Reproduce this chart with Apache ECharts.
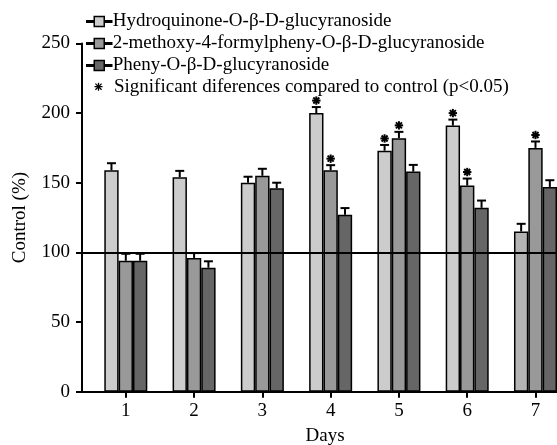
<!DOCTYPE html>
<html>
<head>
<meta charset="utf-8">
<script src="https://cdn.jsdelivr.net/npm/echarts@6/dist/echarts.min.js"></script>
<style>html,body{margin:0;padding:0;background:#fff}#main{width:557px;height:445px}</style>
</head>
<body>
<div id="main"></div>
<script>
var days = [1, 2, 3, 4, 5, 6, 7];
var names = ['Hydroquinone-O-β-D-glucyranoside', '2-methoxy-4-formylpheny-O-β-D-glucyranoside', 'Pheny-O-β-D-glucyranoside'];
var sigName = 'Significant diferences compared to control (p<0.05)';
var hydro = [159, 154, 150, 200, 173, 191, 115];
var methoxy = [94, 96, 155, 159, 182, 148, 175];
var pheny = [94, 89, 146, 127, 158, 132, 147];
var hydroErr = [5, 4.5, 4.3, 4.3, 4.1, 4.3, 5.5];
var methoxyErr = [5, 3.5, 5, 3.6, 4.5, 5, 4.6];
var phenyErr = [5, 4.6, 4, 4.8, 4.8, 5.2, 4.8];
var controlLevel = 100;
// significant points: [series index, day index]
var sigPoints = [[0, 3], [1, 3], [0, 4], [1, 4], [0, 5], [1, 5], [1, 6]];

var values = [hydro, methoxy, pheny];
var errs = [hydroErr, methoxyErr, phenyErr];
var colors = ['#cccccc', '#999999', '#666666'];
var barFrac = 0.21;
var font = 'Liberation Serif';
var fs = 19;

var iconBar = 'path://M0,4.2 L7.5,4.2 L7.5,0 L17.5,0 L17.5,4.2 L25,4.2 L25,5.8 L17.5,5.8 L17.5,10 L7.5,10 L7.5,5.8 L0,5.8 Z';
var iconStar = 'path://M4.2,0 L5.8,0 L5.8,10 L4.2,10 Z M0,4.2 L10,4.2 L10,5.8 L0,5.8 Z M1.7,0.6 L9.4,8.3 L8.3,9.4 L0.6,1.7 Z M8.3,0.6 L9.4,1.7 L1.7,9.4 L0.6,8.3 Z';

var myChart = echarts.init(document.getElementById('main'));

var series = [];
var errData = [];
for (var s = 0; s < 3; s++) {
	var d = [];
	for (var i = 0; i < days.length; i++) {
		var item = { value: [days[i], values[s][i]] };
		if (s == 0 && i == 6) {
			item.itemStyle = { color: '#b4b4b4' };
		}
		d.push(item);
		errData.push([days[i] + (s - 1) * barFrac, values[s][i], errs[s][i]]);
	}
	var ser = {
		name: names[s],
		type: 'bar',
		data: d,
		barWidth: (barFrac * 100) + '%',
		barGap: '0%',
		itemStyle: { color: colors[s], borderColor: '#000', borderWidth: 1.5 }
	};
	if (s == 0) {
		ser.markLine = {
			silent: true,
			symbol: ['none', 'none'],
			label: { show: false },
			lineStyle: { color: '#000', width: 2, type: 'solid' },
			data: [{ yAxis: controlLevel }],
			z: 10
		};
	}
	series.push(ser);
}

// error bars (upper half only)
series.push({
	type: 'custom',
	name: 'err',
	data: errData,
	z: 3,
	renderItem: function (params, api) {
		var top = api.coord([api.value(0), api.value(1)]);
		var cap = api.coord([api.value(0), api.value(1) + api.value(2)]);
		var st = { stroke: '#000', lineWidth: 2 };
		return {
			type: 'group',
			children: [
				{ type: 'line', shape: { x1: top[0], y1: top[1], x2: cap[0], y2: cap[1] }, style: st },
				{ type: 'line', shape: { x1: cap[0] - 4.5, y1: cap[1], x2: cap[0] + 4.5, y2: cap[1] }, style: st }
			]
		};
	}
});

var sigData = [];
for (var k = 0; k < sigPoints.length; k++) {
	var si = sigPoints[k][0], di = sigPoints[k][1];
	sigData.push([days[di] + (si - 1) * barFrac, values[si][di] + errs[si][di]]);
}
series.push({
	type: 'custom',
	name: sigName,
	data: sigData,
	itemStyle: { color: '#000' },
	z: 4,
	renderItem: function (params, api) {
		var p = api.coord([api.value(0), api.value(1)]);
		var cx = p[0], cy = p[1] - 6.5, r = 4.2, r2 = 3;
		var st = { stroke: '#000', lineWidth: 2 };
		return {
			type: 'group',
			children: [
				{ type: 'line', shape: { x1: cx, y1: cy - r, x2: cx, y2: cy + r }, style: st },
				{ type: 'line', shape: { x1: cx - r, y1: cy, x2: cx + r, y2: cy }, style: st },
				{ type: 'line', shape: { x1: cx - r2, y1: cy - r2, x2: cx + r2, y2: cy + r2 }, style: st },
				{ type: 'line', shape: { x1: cx - r2, y1: cy + r2, x2: cx + r2, y2: cy - r2 }, style: st }
			]
		};
	}
});

var option = {
	animation: false,
	backgroundColor: '#fff',
	textStyle: { fontFamily: font },
	grid: { left: 82, right: 0, top: 43.4, bottom: 53.3, outerBoundsMode: 'none', containLabel: false },
	legend: [{
		orient: 'vertical',
		left: 86,
		top: 12,
		padding: 0,
		itemWidth: 25,
		itemHeight: 10,
		itemGap: 3,
		symbolKeepAspect: false,
		selectedMode: false,
		textStyle: { fontFamily: font, fontSize: fs, lineHeight: 19, color: '#000', padding: [0, 0, 0, -4] },
		data: names.map(function (n, i) {
			return { name: n, icon: iconBar, itemStyle: { color: colors[i], borderColor: '#000', borderWidth: 1.5 } };
		})
	}, {
		orient: 'vertical',
		left: 94.5,
		top: 77.2,
		padding: 0,
		itemWidth: 25,
		itemHeight: 8,
		selectedMode: false,
		textStyle: { fontFamily: font, fontSize: fs, lineHeight: 19, color: '#000', padding: [0, 0, 0, -2] },
		data: [{ name: sigName, icon: iconStar, itemStyle: { color: '#000', borderWidth: 0 } }]
	}],
	xAxis: {
		type: 'value',
		min: 0.3585,
		max: 7.315,
		name: 'Days',
		nameLocation: 'middle',
		nameGap: 35,
		nameTextStyle: { fontFamily: font, fontSize: fs, color: '#000', padding: [0, 0, 0, 11] },
		splitLine: { show: false },
		axisLine: { show: true, lineStyle: { color: '#000', width: 2 } },
		axisTick: { show: true, customValues: days, length: 6, lineStyle: { color: '#000', width: 2 } },
		axisLabel: { customValues: days, margin: 10, fontFamily: font, fontSize: fs, color: '#000' }
	},
	yAxis: {
		type: 'value',
		min: 0,
		max: 250,
		interval: 50,
		name: 'Control (%)',
		nameLocation: 'middle',
		nameGap: 52,
		nameTextStyle: { fontFamily: font, fontSize: fs, color: '#000' },
		splitLine: { show: false },
		axisLine: { show: true, lineStyle: { color: '#000', width: 2 } },
		axisTick: { show: true, length: 6, lineStyle: { color: '#000', width: 2 } },
		axisLabel: { margin: 12, fontFamily: font, fontSize: fs, color: '#000' }
	},
	series: series
};
myChart.setOption(option);
</script>
</body>
</html>
